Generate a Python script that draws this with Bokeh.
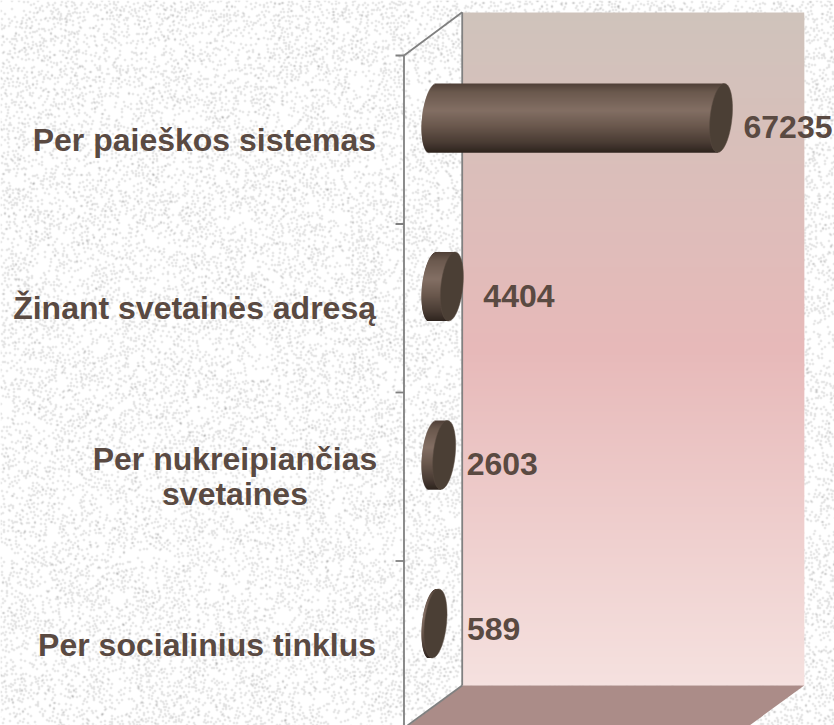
import numpy as np
from bokeh.core.properties import value
from bokeh.embed import file_html
from bokeh.models import Range1d
from bokeh.plotting import figure
from bokeh.resources import INLINE

# ---- data ----
categories = ["Per paieškos sistemas", "Žinant svetainės adresą",
              "Per nukreipiančias\nsvetaines", "Per socialinius tinklus"]
values = [67235, 4404, 2603, 589]

# ---- layout (page pixels) ----
W, H = 834, 725
PX_PER_UNIT = 288 / 67235
X0_PX, Y0_PX, ROW_PX = 432.5, 117.5, 168.5
BAR_HALF_PX, CAP_HALF_PX, CAP_SHEAR_PX = 34.5, 11.0, 3.3
label_x_px = [375.5, 375.5, 234.5, 375.5]
label_y_px = [139.5, 307.5, 476, 644.5]
label_align = ["right", "right", "center", "right"]
value_gap_px = [11, 20, 11, 20]
value_y_px = [126, 295, 463.5, 628.5]
TEXT = "#5a4a42"
LINE = "#808080"


def X(px):
    return (np.asarray(px, dtype=float) - X0_PX) / PX_PER_UNIT


def Y(py):
    return (np.asarray(py, dtype=float) - Y0_PX) / ROW_PX


def lerp_color(stops, t):
    fr = [s[0] for s in stops]
    out = [np.interp(t, fr, [int(s[1][i:i + 2], 16) for s in stops]) for i in (1, 3, 5)]
    return "#%02x%02x%02x" % tuple(int(round(c)) for c in out)


p = figure(width=W, height=H, output_backend="svg", toolbar_location=None,
           x_range=Range1d(float(X(0)), float(X(W))), y_range=Range1d(float(Y(H)), float(Y(0))),
           min_border=0, outline_line_color=None,
           styles={"position": "absolute", "left": "0px", "top": "0px"})
p.xaxis.visible = False
p.yaxis.visible = False
p.xgrid.visible = False
p.ygrid.visible = False

# speckled paper texture (deterministic hash of a 3px lattice, soft dots)
cj, ci = np.mgrid[0:H // 3 + 2, 0:W // 3 + 2]
mix = ((ci.astype(np.int64) * 73856093) ^ (cj.astype(np.int64) * 19349663)) & 0xFFFFFF
mix = (mix * 2654435761 >> 7) & 0xFFFFFF
coarse = ((((ci // 9).astype(np.int64) * 83492791) ^ ((cj // 7).astype(np.int64) * 49979693)) >> 5) % 100
on = (mix % 100) < (28 + coarse * 0.34)
g = np.zeros((H + 6, W + 6))
jx = ((mix >> 8) % 3) - 1
jy = ((mix >> 12) % 3) - 1
gy = np.clip(cj * 3 + jy + 1, 0, H + 5)
gx = np.clip(ci * 3 + jx + 1, 0, W + 5)
g[gy[on], gx[on]] = 1.0
blur = (g * 4 + (np.roll(g, 1, 0) + np.roll(g, -1, 0) + np.roll(g, 1, 1) + np.roll(g, -1, 1)) * 1.3) / 6
blur = np.clip(blur, 0, 1)[:H, :W]
shade = (255 - 78 * blur).astype(np.uint32)
img = (np.uint32(255) << 24) | (shade << 16) | (shade << 8) | shade
p.image_rgba(image=[img.astype(np.uint32)], x=float(X(0)), y=float(Y(0)),
             dw=float(X(W) - X(0)), dh=float(Y(H) - Y(0)))

# back wall gradient (each band overlaps the next so no seams show)
wall_stops = [(0, "#cfc3bb"), (0.5, "#e7b9b9"), (1, "#f5e1df")]
ys = np.arange(12, 685, 2)
wall_cols = [lerp_color(wall_stops, (v - 12) / 673) for v in ys]
p.quad(left=X(462), right=X(803.7), top=Y(ys), bottom=Y(np.minimum(ys + 4, 685)),
       fill_color=wall_cols, line_color=None)

# floor
p.patch(X([462, 803.7, 749, 408]), Y([685, 685, 725, 725]), fill_color="#ab8c88", line_color=None)

# frame
p.line(X([461.7, 461.7]), Y([11.7, 685]), line_color=LINE, line_width=1.8)
p.line(X([403.5, 461.7]), Y([55, 11.7]), line_color=LINE, line_width=1.8)
p.line(X([403.5, 403.5]), Y([55, 725]), line_color=LINE, line_width=1.8)
p.line(X([461.7, 407]), Y([685, 725]), line_color=LINE, line_width=1.8)
tick_y = Y0_PX - 62.5 + ROW_PX * np.arange(len(values))
p.segment(X(395), Y(tick_y), X(403.5), Y(tick_y), line_color=LINE, line_width=1.8)

# cylinders: shaded strips with a sheared, elliptical rounded start, flat end cap
body_stops = [(0, "#4f4037"), (0.12, "#6a584d"), (0.39, "#836f64"),
              (0.62, "#6a584d"), (0.85, "#4a3c34"), (1, "#2e241e")]
k = np.arange(-BAR_HALF_PX, BAR_HALF_PX, 1.0)
mid = k + 0.5
t = np.linspace(0, 2 * np.pi, 73)
for i, v in enumerate(values):
    cy = Y0_PX + ROW_PX * i
    shear = -CAP_SHEAR_PX * mid / BAR_HALF_PX
    edge = X0_PX - CAP_HALF_PX * np.sqrt(np.clip(1 - (mid / BAR_HALF_PX) ** 2, 0, 1)) + shear
    cols = [lerp_color(body_stops, (m + BAR_HALF_PX) / (2 * BAR_HALF_PX)) for m in mid]
    bottoms = np.minimum(cy + k + 2, cy + BAR_HALF_PX)
    p.quad(left=X(edge), right=v + shear / PX_PER_UNIT, top=Y(cy + k), bottom=Y(bottoms),
           fill_color=cols, line_color=None)
    cap_x = v + (CAP_HALF_PX * np.cos(t) - CAP_SHEAR_PX * np.sin(t)) / PX_PER_UNIT
    cap_y = i + BAR_HALF_PX * np.sin(t) / ROW_PX
    p.patch(cap_x, cap_y, fill_color="#4b3f35", line_color="#5a4c42", line_width=0.5)

# value labels
p.text(x=[v + (CAP_HALF_PX + 0.5 + g_) / PX_PER_UNIT for v, g_ in zip(values, value_gap_px)],
       y=Y(value_y_px), text=[str(v) for v in values], text_align="left", text_baseline="middle",
       text_color=TEXT, text_font=value("Liberation Sans"), text_font_style="bold",
       text_font_size="32px")

# category labels
for c, lx, ly, a in zip(categories, label_x_px, label_y_px, label_align):
    p.text(x=[float(X(lx))], y=[float(Y(ly))], text=[c], text_align=a, text_baseline="middle",
           text_color=TEXT, text_font=value("Liberation Sans"), text_font_style="bold",
           text_font_size="32px", text_line_height=0.98)

open("out.html", "w").write(file_html(p, INLINE))
